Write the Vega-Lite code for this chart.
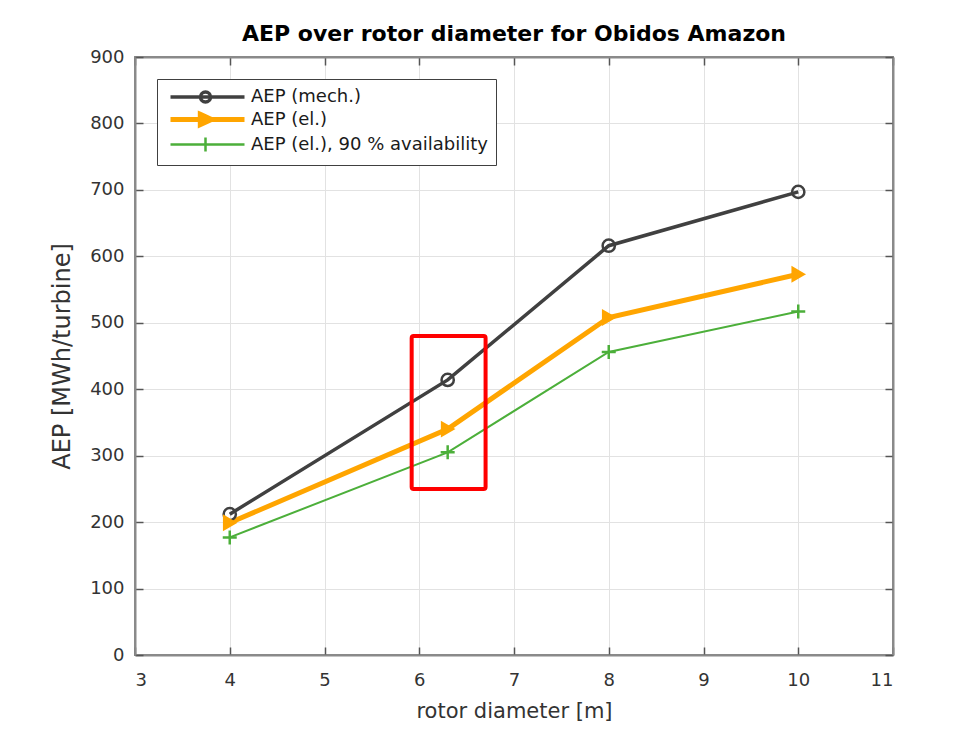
{
  "$schema": "https://vega.github.io/schema/vega-lite/v6.json",
  "width": 758,
  "height": 598,
  "autosize": {"type": "none"},
  "padding": {"left": 135, "top": 57, "right": 81, "bottom": 80},
  "background": "white",
  "title": {
    "text": "AEP over rotor diameter for Obidos Amazon",
    "font": "DejaVu Sans",
    "fontSize": 22,
    "fontWeight": "bold",
    "color": "#000000",
    "anchor": "middle",
    "offset": 2
  },
  "datasets": {
    "aep": [
      {"series": "AEP (mech.)", "d": 4, "aep": 212},
      {"series": "AEP (mech.)", "d": 6.3, "aep": 414},
      {"series": "AEP (mech.)", "d": 8, "aep": 616},
      {"series": "AEP (mech.)", "d": 10, "aep": 697},
      {"series": "AEP (el.)", "d": 4, "aep": 199},
      {"series": "AEP (el.)", "d": 6.3, "aep": 340},
      {"series": "AEP (el.)", "d": 8, "aep": 508},
      {"series": "AEP (el.)", "d": 10, "aep": 573},
      {"series": "AEP (el.), 90 % availability", "d": 4, "aep": 177},
      {"series": "AEP (el.), 90 % availability", "d": 6.3, "aep": 305},
      {"series": "AEP (el.), 90 % availability", "d": 8, "aep": 456},
      {"series": "AEP (el.), 90 % availability", "d": 10, "aep": 517}
    ],
    "box": [{"x1": 5.92, "x2": 6.7, "y1": 250, "y2": 480}]
  },
  "data": {"name": "aep"},
  "config": {
    "view": {"stroke": "#8a8a8a", "strokeWidth": 2},
    "axis": {
      "labelFont": "DejaVu Sans",
      "labelFontSize": 18,
      "labelColor": "#333333",
      "titleFont": "DejaVu Sans",
      "titleFontWeight": "normal",
      "titleColor": "#333333",
      "domainColor": "#8a8a8a",
      "domainWidth": 2,
      "ticks": true,
      "tickColor": "#555555",
      "tickWidth": 1.5,
      "tickSize": -8,
      "gridColor": "#e2e2e2",
      "gridWidth": 1,
      "zindex": 1
    },
    "legend": {
      "padding": 8,
      "strokeColor": "#404040",
      "fillColor": "white",
      "symbolSize": 256,
      "symbolStrokeWidth": 3,
      "symbolOpacity": 1,
      "labelFont": "DejaVu Sans",
      "labelFontSize": 18,
      "labelColor": "#1a1a1a",
      "labelLimit": 400,
      "labelOffset": 65,
      "rowPadding": -5
    }
  },
  "resolve": {"axis": {"x": "independent", "y": "independent"}},
  "layer": [
    {
      "transform": [{"filter": "datum.series === 'AEP (mech.)'"}],
      "mark": {"type": "line", "stroke": "#404040", "strokeWidth": 3.5},
      "encoding": {
        "x": {
          "field": "d", "type": "quantitative",
          "scale": {"domain": [3, 11], "nice": false, "zero": false},
          "axis": {"orient": "bottom", "values": [3, 4, 5, 6, 7, 8, 9, 10, 11], "grid": true, "gridColor": "#e2e2e2", "title": "rotor diameter [m]", "titleFontSize": 21, "labelPadding": 24, "titlePadding": 11, "zindex": 0}
        },
        "y": {
          "field": "aep", "type": "quantitative",
          "scale": {"domain": [0, 900], "nice": false},
          "axis": {"orient": "left", "values": [0, 100, 200, 300, 400, 500, 600, 700, 800, 900], "grid": true, "title": "AEP [MWh/turbine]", "titleFontSize": 24, "labelPadding": 19, "titlePadding": 15, "zindex": 0}
        }
      }
    },
    {
      "transform": [{"filter": "datum.series === 'AEP (el.)'"}],
      "mark": {"type": "line", "stroke": "#FFA500", "strokeWidth": 5},
      "encoding": {
        "x": {"field": "d", "type": "quantitative", "axis": null},
        "y": {"field": "aep", "type": "quantitative", "axis": null}
      }
    },
    {
      "transform": [{"filter": "datum.series === 'AEP (el.), 90 % availability'"}],
      "mark": {"type": "line", "stroke": "#4caf3a", "strokeWidth": 2},
      "encoding": {
        "x": {"field": "d", "type": "quantitative", "axis": null},
        "y": {"field": "aep", "type": "quantitative", "axis": null}
      }
    },
    {
      "transform": [{"filter": "datum.series === 'AEP (mech.)'"}],
      "mark": {"type": "point", "shape": "circle", "size": 150, "filled": false, "stroke": "#404040", "strokeWidth": 2.5, "opacity": 1},
      "encoding": {
        "x": {"field": "d", "type": "quantitative", "axis": null},
        "y": {"field": "aep", "type": "quantitative", "axis": null}
      }
    },
    {
      "transform": [{"filter": "datum.series === 'AEP (el.)'"}],
      "mark": {"type": "point", "shape": "triangle-right", "size": 180, "filled": true, "fill": "#FFA500", "stroke": "#FFA500", "strokeWidth": 2, "opacity": 1},
      "encoding": {
        "x": {"field": "d", "type": "quantitative", "axis": null},
        "y": {"field": "aep", "type": "quantitative", "axis": null}
      }
    },
    {
      "transform": [{"filter": "datum.series === 'AEP (el.), 90 % availability'"}],
      "mark": {"type": "point", "shape": "M-1,0H1M0,-1V1", "size": 196, "filled": false, "stroke": "#4caf3a", "strokeWidth": 2.5, "opacity": 1},
      "encoding": {
        "x": {"field": "d", "type": "quantitative", "axis": null},
        "y": {"field": "aep", "type": "quantitative", "axis": null}
      }
    },
    {
      "mark": {"type": "point", "filled": true, "size": 0, "strokeWidth": 3},
      "encoding": {
        "x": {"field": "d", "type": "quantitative", "axis": null},
        "y": {"field": "aep", "type": "quantitative", "axis": null},
        "stroke": {
          "field": "series", "type": "nominal",
          "scale": {"domain": ["AEP (mech.)", "AEP (el.)", "AEP (el.), 90 % availability"], "range": ["#404040", "#FFA500", "#4caf3a"]},
          "legend": {"title": null, "orient": "top-left", "offset": 22, "symbolSize": 256}
        },
        "fill": {
          "field": "series", "type": "nominal",
          "scale": {"domain": ["AEP (mech.)", "AEP (el.)", "AEP (el.), 90 % availability"], "range": ["transparent", "#FFA500", "transparent"]},
          "legend": {"title": null, "orient": "top-left", "offset": 22, "symbolSize": 256}
        },
        "shape": {
          "field": "series", "type": "nominal",
          "scale": {"domain": ["AEP (mech.)", "AEP (el.)", "AEP (el.), 90 % availability"], "range": ["M-0.625,0H8.625M4.375,0A0.625,0.625 0 1 0 3.125,0A0.625,0.625 0 1 0 4.375,0", "M-0.625,0H8.625M3.1,-0.65L4.5,0L3.1,0.65Z", "M-0.625,0H8.625M3.75,-0.875V0.875"]},
          "legend": {"title": null, "orient": "top-left", "offset": 22, "symbolSize": 256}
        },
        "strokeWidth": {
          "field": "series", "type": "nominal",
          "scale": {"type": "ordinal", "domain": ["AEP (mech.)", "AEP (el.)", "AEP (el.), 90 % availability"], "range": [3.5, 5, 2.5]},
          "legend": {"title": null, "orient": "top-left", "offset": 22, "symbolSize": 256}
        }
      }
    },
    {
      "data": {"name": "box"},
      "mark": {"type": "rect", "filled": false, "stroke": "#ff0000", "strokeWidth": 4, "cornerRadius": 2},
      "encoding": {
        "x": {"field": "x1", "type": "quantitative", "scale": {"domain": [3, 11], "nice": false, "zero": false}, "axis": {"orient": "top", "values": [3, 4, 5, 6, 7, 8, 9, 10, 11], "labels": false, "grid": false, "title": null}},
        "x2": {"field": "x2"},
        "y": {"field": "y1", "type": "quantitative", "scale": {"domain": [0, 900], "nice": false}, "axis": {"orient": "right", "values": [0, 100, 200, 300, 400, 500, 600, 700, 800, 900], "labels": false, "grid": false, "title": null}},
        "y2": {"field": "y2"}
      }
    }
  ]
}
